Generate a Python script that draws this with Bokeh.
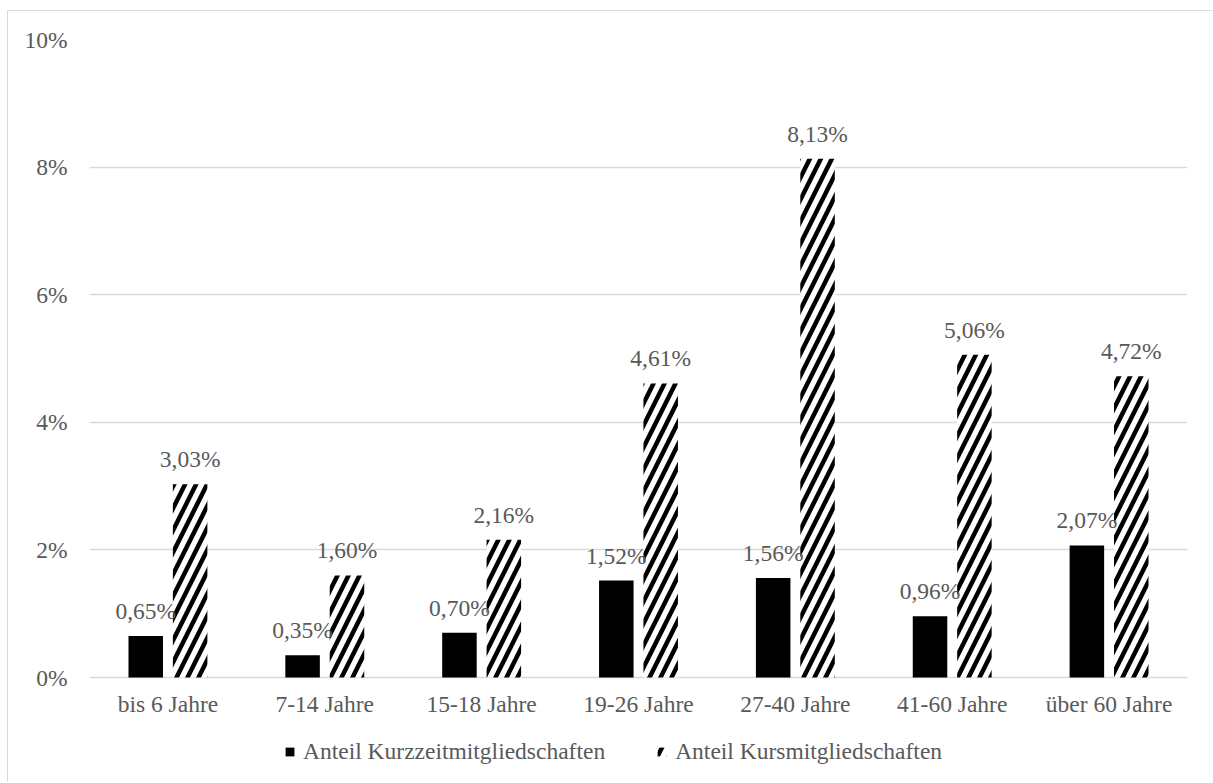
from bokeh.plotting import figure
from bokeh.models import FactorRange, Range1d, ColumnDataSource, Legend, LegendItem, FixedTicker
from bokeh.transform import dodge
from bokeh.core.properties import value
from bokeh.embed import file_html
from bokeh.resources import INLINE

categories = ["bis 6 Jahre", "7-14 Jahre", "15-18 Jahre", "19-26 Jahre",
              "27-40 Jahre", "41-60 Jahre", "über 60 Jahre"]
kurzzeit = [0.65, 0.35, 0.70, 1.52, 1.56, 0.96, 2.07]
kurs = [3.03, 1.60, 2.16, 4.61, 8.13, 5.06, 4.72]
y_ticks = [0, 2, 4, 6, 8, 10]
y_tick_labels = ["0%", "2%", "4%", "6%", "8%", "10%"]
series_names = ["Anteil Kurzzeitmitgliedschaften", "Anteil Kursmitgliedschaften"]


def fmt(v):
    return f"{v:.2f}".replace(".", ",") + "%"


source = ColumnDataSource(dict(
    cat=categories,
    zero=[0] * len(categories),
    kurzzeit=kurzzeit,
    kurs=kurs,
    kurzzeit_lbl=[fmt(v) for v in kurzzeit],
    kurs_lbl=[fmt(v) for v in kurs],
))

FONT = "Liberation Serif"
GREY = "#595959"
FS = "23.5px"

# frame extends below the zero line so that category labels and legend live inside it
Y_MAX = 10
FRAME_H = 744
ZERO_PX = 638
y_min = -Y_MAX * (FRAME_H - ZERO_PX) / ZERO_PX

p = figure(x_range=FactorRange(*categories), y_range=Range1d(y_min, Y_MAX),
           width=1205, height=772, output_backend="svg", toolbar_location=None,
           x_axis_location=None,
           min_border_left=81, min_border_right=26, min_border_top=28, min_border_bottom=0)
p.margin = (10, 0, 0, 7)
p.styles = {"border-left": "1px solid #d9d9d9", "border-top": "1px solid #d9d9d9"}
p.outline_line_color = None
p.background_fill_color = "white"
p.border_fill_color = "white"

off = 0.1415
bw = 0.22
r1 = p.vbar(x=dodge("cat", -off, range=p.x_range), top="kurzzeit", width=bw, source=source,
            fill_color="black", line_color=None)
r2 = p.vbar(x=dodge("cat", off, range=p.x_range), top="kurs", width=bw, source=source,
            fill_color="white", line_color=None, hatch_pattern="/", hatch_color="black",
            hatch_weight=4.5, hatch_scale=22)

p.text(x=dodge("cat", -off, range=p.x_range), y="kurzzeit", text="kurzzeit_lbl", source=source,
       text_align="center", text_baseline="alphabetic", y_offset=-25,
       text_font=value(FONT), text_font_size=FS, text_color=GREY)
p.text(x=dodge("cat", off, range=p.x_range), y="kurs", text="kurs_lbl", source=source,
       text_align="center", text_baseline="alphabetic", y_offset=-25,
       text_font=value(FONT), text_font_size=FS, text_color=GREY)

# category labels under the zero line
p.text(x="cat", y="zero", text="cat", source=source,
       text_align="center", text_baseline="alphabetic", y_offset=26,
       text_font=value(FONT), text_font_size=FS, text_color=GREY)

p.xgrid.grid_line_color = None
p.ygrid.grid_line_color = "#d9d9d9"
p.ygrid.grid_line_width = 1.5
p.ygrid.ticker = FixedTicker(ticks=y_ticks)
p.yaxis.ticker = FixedTicker(ticks=y_ticks)
p.yaxis.major_label_overrides = {t: l for t, l in zip(y_ticks, y_tick_labels)}

ax = p.yaxis[0]
ax.axis_line_color = None
ax.major_tick_line_color = None
ax.minor_tick_line_color = None
ax.major_label_text_font = FONT
ax.major_label_text_font_size = FS
ax.major_label_text_color = GREY
ax.major_label_standoff = 16

legend = Legend(items=[LegendItem(label=series_names[0], renderers=[r1]),
                       LegendItem(label=series_names[1], renderers=[r2])],
                orientation="horizontal", location=(195, 18),
                border_line_color=None, background_fill_alpha=0,
                label_text_font=FONT, label_text_font_size=FS, label_text_color=GREY,
                glyph_width=11, glyph_height=11, label_standoff=8, spacing=51,
                padding=0, margin=0)
p.add_layout(legend, "center")

open("out.html", "w").write(file_html(p, INLINE))
